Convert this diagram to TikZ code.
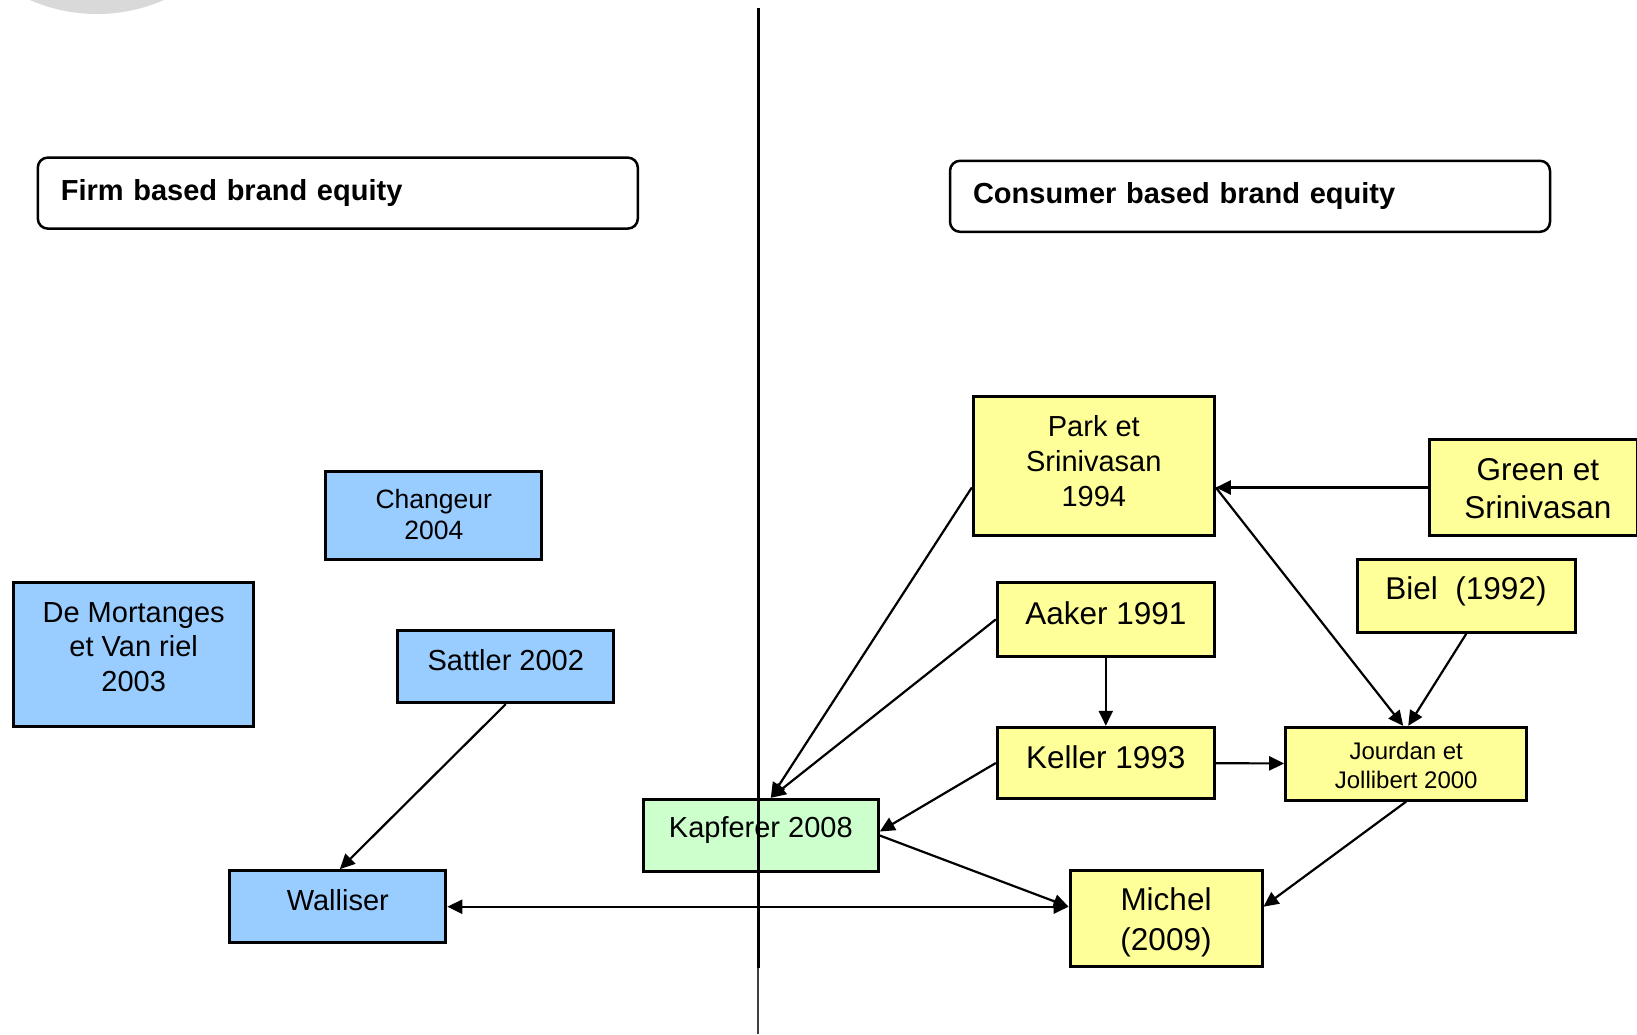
\documentclass[tikz,border=0pt]{standalone}
\usepackage{fontspec}
\setmainfont{Liberation Sans}
\usepackage{tikz}
\usetikzlibrary{arrows.meta, positioning}

\definecolor{firmblue}{HTML}{99CCFF}
\definecolor{consyellow}{HTML}{FFFF99}
\definecolor{bothgreen}{HTML}{CCFFCC}

\begin{document}
\begin{tikzpicture}[x=1pt, y=-1pt]
    \tikzstyle{box} = [draw, rectangle, line width=3pt, inner sep=0pt]
    \tikzstyle{bluebox} = [box, fill=firmblue]
    \tikzstyle{yellowbox} = [box, fill=consyellow]
    \tikzstyle{greenbox} = [box, fill=bothgreen]
    \tikzstyle{txt} = [align=center, inner sep=0pt, font=\fontsize{29}{35}\selectfont]
    \tikzstyle{bigtxt} = [align=center, inner sep=0pt, font=\fontsize{31.5}{38}\selectfont]
    \tikzstyle{head} = [draw, rectangle, rounded corners=10pt, line width=2.5pt, minimum width=600pt, minimum height=71pt, text width=554pt, inner xsep=23pt, align=left, font=\bfseries\fontsize{29}{35}\selectfont]
    \tikzstyle{line} = [draw, line width=2.2pt, -{Triangle[length=15pt,width=14pt]}]
    \tikzstyle{dline} = [draw, line width=2.2pt, {Triangle[length=15pt,width=14pt]}-{Triangle[length=15pt,width=14pt]}]

    \useasboundingbox (0,0) rectangle (1637,1034);
    \begin{scope}
        \clip (0,0) rectangle (1637,1034);
        \fill [black!15] (97,-153) circle (167pt);
    \end{scope}

    % headers
    \node [head] (firm) at (337.8,193.1) {Firm based brand equity};
    \node [head] (consumer) at (1250,196.3) {Consumer based brand equity};

    % firm based side
    \node [bluebox, minimum width=216pt, minimum height=87.7pt] (changeur) at (433.8,515.8) {};
    \node [txt, font=\fontsize{26.5}{31.3}\selectfont] (changeur-t) at (433.8,514.7) {Changeur\\2004};
    \node [bluebox, minimum width=240pt, minimum height=144pt] (mortanges) at (133.7,654.6) {};
    \node [txt, font=\fontsize{29}{34.5}\selectfont] (mortanges-t) at (133.7,647) {De Mortanges\\et Van riel\\2003};
    \node [bluebox, minimum width=216pt, minimum height=72pt] (sattler) at (505.8,666.6) {};
    \node [txt] (sattler-t) at (505.8,660) {Sattler 2002};
    \node [bluebox, minimum width=216pt, minimum height=72pt] (walliser) at (337.8,906.7) {};
    \node [txt] (walliser-t) at (337.8,900) {Walliser};

    % between both
    \node [greenbox, minimum width=235pt, minimum height=72.4pt] (kapferer) at (760.8,835.5) {};
    \node [txt] (kapferer-t) at (760.8,830) {Kapferer 2008};

    % consumer based side
    \node [yellowbox, minimum width=241pt, minimum height=138.6pt] (park) at (1093.8,466) {};
    \node [txt, font=\fontsize{29}{35}\selectfont] (park-t) at (1093.8,461) {Park et\\Srinivasan\\1994};
    \node [yellowbox, minimum width=217pt, minimum height=73.3pt] (aaker) at (1105.8,619.4) {};
    \node [bigtxt] (aaker-t) at (1105.8,612.8) {Aaker 1991};
    \node [yellowbox, minimum width=217pt, minimum height=71.4pt] (keller) at (1105.8,763) {};
    \node [bigtxt] (keller-t) at (1105.8,757) {Keller 1993};
    \node [yellowbox, minimum width=208pt, minimum height=96.4pt] (green) at (1533,487.5) {};
    \node [bigtxt] (green-t) at (1537.8,488.5) {Green et\\Srinivasan};
    \node [yellowbox, minimum width=217.7pt, minimum height=73.3pt] (biel) at (1466.2,595.7) {};
    \node [bigtxt] (biel-t) at (1466,591.5) {Biel\ \ (1992)};
    \node [yellowbox, minimum width=241pt, minimum height=72.7pt] (jourdan) at (1406.2,763.7) {};
    \node [txt, font=\fontsize{24}{29.2}\selectfont] (jourdan-t) at (1406.2,765.5) {Jourdan et\\Jollibert 2000};
    \node [yellowbox, minimum width=192pt, minimum height=96pt] (michel) at (1166,918.7) {};
    \node [bigtxt, font=\fontsize{31.5}{39.7}\selectfont] (michel-t) at (1166,922.5) {Michel\\(2009)};

    % links on the consumer side
    \draw [line] (green.west) -- (green.west -| park.east);
    \draw [line] (green.west -| park.east) -- ([xshift=-3pt]jourdan.north);
    \draw [line] (biel.south) -- ([xshift=2pt]jourdan.north);
    \draw [line] (aaker) -- (keller);
    \draw [line] (keller) -- (jourdan);
    \draw [line] (jourdan.south) -- (michel.east |- walliser.east);

    % links towards Kapferer
    \draw [line] (park.west |- green.west) -- ([xshift=10pt]kapferer.north);
    \draw [line] (aaker.west) -- ([xshift=10pt]kapferer.north);
    \draw [line] (keller.west) -- ([yshift=4pt]kapferer.east);
    \draw [line] (kapferer.east) -- (walliser.east -| michel.west);

    % links on the firm side
    \draw [line] (sattler.south) -- ([xshift=2pt]walliser.north);
    \draw [dline] (walliser.east) -- (walliser.east -| michel.west);

    % divider
    \coordinate (divtop) at (758,8.4);
    \coordinate (divmid) at (758,968);
    \coordinate (divbot) at (758,1034);
    \draw [line width=3pt] (divtop) -- (divmid);
    \draw [line width=1.4pt, black!75] (divmid) -- (divbot);
\end{tikzpicture}
\end{document}
